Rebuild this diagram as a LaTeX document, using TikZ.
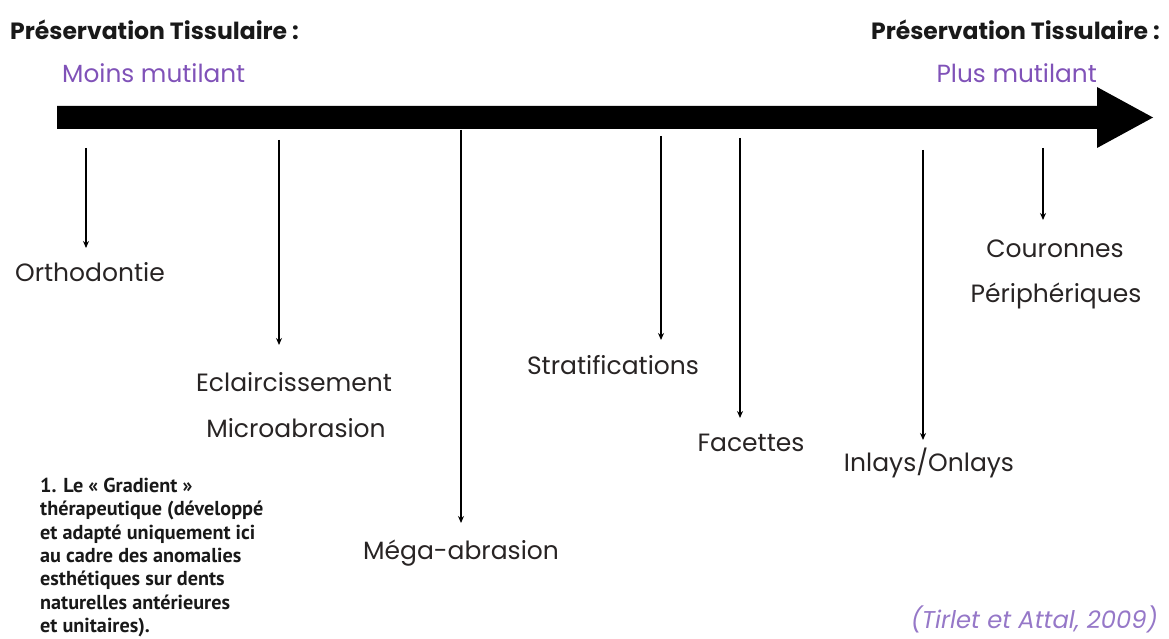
\documentclass[tikz,border=0pt]{standalone}
\usepackage{fontspec}
\setmainfont{Poppins}
\newfontfamily\notefont{PT Sans}
\usetikzlibrary{arrows.meta}
\definecolor{violet1}{RGB}{128,82,184}
\definecolor{violet2}{RGB}{150,120,200}
\definecolor{txt}{RGB}{40,36,36}
\tikzset{
  lbl/.style={font=\fontsize{25}{28}\selectfont, text=txt, inner sep=0pt, align=center},
  tick/.style={line width=1.6pt, -{Stealth[length=7pt,width=6pt]}},
  hdr/.style={font=\fontsize{23.5}{26}\selectfont\bfseries, text=black!90, inner sep=0pt},
  pur/.style={font=\fontsize{24.8}{28}\selectfont, text=violet1, inner sep=0pt},
}
\begin{document}
\begin{tikzpicture}[x=1pt,y=-1pt]
\useasboundingbox (0,0) rectangle (1169,639);
% headers
\node[hdr, anchor=west] (h1) at (10,30) {Préservation Tissulaire :};
\node[hdr, anchor=east] (h2) at (1160,30) {Préservation Tissulaire :};
\node[pur, anchor=west] (m1) at (62,73) {Moins mutilant};
\node[pur, anchor=east] (m2) at (1097,73) {Plus mutilant};
% main arrow
\fill[black] (57,106) -- (1097,106) -- (1097,87) -- (1153,117.5) -- (1097,148) -- (1097,129) -- (57,129) -- cycle;
% start coordinates
\coordinate (s1) at (86,148);
\coordinate (s2) at (279,140);
\coordinate (s3) at (461,130);
\coordinate (s4) at (661,136);
\coordinate (s5) at (740,138);
\coordinate (s6) at (923,150);
\coordinate (s7) at (1043,148);
\coordinate (e1) at (86,248);
\coordinate (e2) at (279,345);
\coordinate (e3) at (461,523);
\coordinate (e4) at (661,340);
\coordinate (e5) at (740,418);
\coordinate (e6) at (923,440);
\coordinate (e7) at (1043,220);
\foreach \i in {1,...,7} \draw[tick] (s\i) -- (e\i);
% labels
\node[lbl] (ortho) at (90,272) {Orthodontie};
\node[lbl] (ecl) at (294,382) {Eclaircissement};
\node[lbl] (micro) at (296,428) {Microabrasion};
\node[lbl] (mega) at (461,553) {Méga-abrasion};
\node[lbl] (strat) at (613,365) {Stratifications};
\node[lbl] (fac) at (751,443) {Facettes};
\node[lbl] (inl) at (929,463) {Inlays/Onlays};
\node[lbl] (cour) at (1055,249) {Couronnes};
\node[lbl] (peri) at (1056,296) {Périphériques};
% footnote
\node[anchor=north west, inner sep=0pt, align=left, font=\notefont\bfseries\fontsize{20.2}{23.3}\selectfont, text=black!90] (note) at (40,478)
{1. Le « Gradient »\\thérapeutique (développé\\et adapté uniquement ici\\au cadre des anomalies\\esthétiques sur dents\\naturelles antérieures\\et unitaires).};
% citation
\node[anchor=east, inner sep=0pt, font=\fontsize{24.3}{27}\selectfont\itshape, text=violet2] (cite) at (1158,619) {(Tirlet et Attal, 2009)};
\end{tikzpicture}
\end{document}
